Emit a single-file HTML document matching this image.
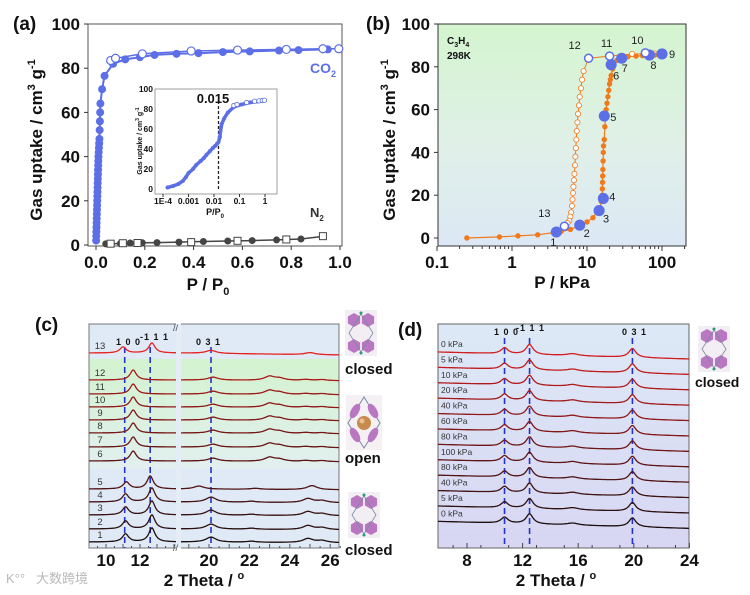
<!DOCTYPE html>
<html><head><meta charset="utf-8">
<style>
html,body{margin:0;padding:0;background:#fff;}
svg{display:block;font-family:"Liberation Sans","Noto Sans CJK SC",sans-serif;}
</style></head>
<body>
<svg id="fig" width="750" height="595" viewBox="0 0 750 595" xmlns="http://www.w3.org/2000/svg">
<defs>
<linearGradient id="gb" x1="0" y1="0" x2="0" y2="1"><stop offset="0" stop-color="#d4f5cf"/><stop offset="0.55" stop-color="#e0f0e8"/><stop offset="1" stop-color="#dce8f5"/></linearGradient>
<linearGradient id="gc" x1="0" y1="0" x2="0" y2="1"><stop offset="0" stop-color="#d3f3cf"/><stop offset="1" stop-color="#e2efef"/></linearGradient>
<linearGradient id="gd" x1="0" y1="0" x2="0" y2="1"><stop offset="0" stop-color="#dde9f6"/><stop offset="1" stop-color="#d8d6f3"/></linearGradient>
</defs>
</svg>
<script>
// ---------- DATA ----------
const co2AdsP=[0.0005,0.001,0.0015,0.002,0.0025,0.003,0.0035,0.004,0.0045,0.005,0.0055,0.006,0.0065,0.007,0.0075,0.008,0.0085,0.009,0.0095,0.010,0.011,0.012,0.013,0.014,0.015,0.016,0.017,0.018,0.025,0.035,0.07,0.12,0.18,0.24,0.33,0.42,0.52,0.63,0.75,0.83,0.95];
const co2AdsV=[2,4,6,8,10,12,14,16,18,20,22,24,26,28,30,32,34,36,38,40,42,44,46,48,52,56,60,64,70.5,76.5,82,84,85,86,86.5,86.8,87.3,87.6,88,88.2,88.5];
const co2DesP=[0.06,0.08,0.19,0.39,0.58,0.78,0.93,0.995];
const co2DesV=[83.5,84.5,86.5,87.8,88.2,88.5,88.8,88.8];
const n2AdsP=[0.04,0.10,0.14,0.19,0.25,0.34,0.39,0.44,0.54,0.64,0.74,0.84,0.93];
const n2AdsV=[0.5,0.7,0.9,1.0,1.1,1.3,1.5,1.6,1.8,2.0,2.3,2.7,3.9];
const n2DesP=[0.06,0.11,0.17,0.39,0.58,0.78,0.93];
const n2DesV=[0.6,0.8,0.9,1.3,1.9,2.5,4.0];
const insAdsP=[0.00015,0.00025,0.0004,0.0006,0.0008,0.001,0.0015,0.002,0.003,0.004,0.005,0.007,0.009,0.011,0.013,0.015,0.017,0.018,0.019,0.02,0.025,0.035,0.06,0.12,0.25,0.5,1];
const insAdsV=[1.5,3,5,8,12,16,20,24,28,31,34,38,41,43,45,47,52,58,62,65,70.5,76.5,82,84.5,86.5,87.5,88.5];
const insDesP=[0.06,0.08,0.19,0.39,0.58,0.78,0.95];
const insDesV=[83.5,84.5,86.5,87.8,88.2,88.5,88.8];
const bAdsP=[0.25,0.68,1.2,2.2,4.5,6,8,10,12,13.5,15,15.5,16,16,16.1,16.2,16.3,16.4,16.5,16.6,17,17.3,17.6,18,18.5,19,19.5,20,20.5,21,22,25,30,35,45,55,65,80,100];
const bAdsV=[0,0.5,1,1.5,3,4,6,7.5,9.5,12,14,17,20,23,26,29,32,36,40,43,46,52,56,60,63,66,69,72,74,76,79,83,84,84.7,85,85.2,85.5,85.5,86];
const bDesP=[80,40,20,10.5,9,8.6,8.3,8.0,7.8,7.6,7.45,7.3,7.2,7.1,7.0,6.9,6.8,6.7,6.6,6.5,6.4,6.3,6.15,6.0,5.8,5.5,5.0];
const bDesV=[86.2,86,85,84,78,74,70,66,62,58,54,50,46,42,38,34,30,27,24,21,18,15,12,10,8,7,5.5];
const bMarkP=[3.9,8,14.5,16.5,17,21,29,68,100,60,20,10.5,5];
const bMarkV=[2.8,6,12.8,18.5,57,81,84,85.5,86,86.5,85,84,5.5];
const bMarkOpen=[0,0,0,0,0,0,0,0,0,1,1,1,1];
const bMarkLbl=["1","2","3","4","5","6","7","8","9","10","11","12","13"];
const cLabels=["13","12","11","10","9","8","7","6","5","4","3","2","1"];
const cPhase=["c13","o","o","o","o","o","o","o","c5","c","c","c","c"];
const cPeakPos={c13:[11.0,12.7,20.1,25.0],o:[11.6,20.2,23.0,23.5,24.8,25.6],c5:[11.2,12.6,19.5,22.3,25.1],c:[11.15,12.7,20.1,22.1,24.9,25.6]};
const cPeakH={c13:[6,10,3,2],o:[10,3,4,2,1,1],c5:[7,13,3,1,4],c:[8,14,5,1,4,2]};
const cTicks=[10,12,20,22,24,26];
const cRefs=[11.1,12.6,20.1];
const dLabels=["0 kPa","5 kPa","10 kPa","20 kPa","40 kPa","60 kPa","80 kPa","100 kPa","80 kPa","40 kPa","5 kPa","0 kPa"];
const dPeakPos=[10.7,12.5,15.6,19.9];
const dPeakH=[6,10,2,9];
const dTicks=[8,12,16,20,24];
const dRefs=[10.7,12.5,19.9];

// ---------- helpers ----------
const NS="http://www.w3.org/2000/svg";
const svg=document.getElementById('fig');
function mk(tag,attrs,parent){const e=document.createElementNS(NS,tag);for(const k in attrs)e.setAttribute(k,attrs[k]);(parent||svg).appendChild(e);return e;}
function txt(s,x,y,size,opts,parent){const t=mk('text',Object.assign({x:x,y:y,'font-size':size,fill:'#111'},opts||{}),parent);t.textContent=s;return t;}
function grp(name){const g=mk('g',{});return g;}
function poly(pts,attrs,parent){return mk('polyline',Object.assign({points:pts.map(p=>p[0].toFixed(1)+','+p[1].toFixed(1)).join(' '),fill:'none'},attrs),parent);}

// ================= PANEL A =================
const xa=v=>96+v*244, ya=v=>245-v*2.21;
const ga=grp('panel-a');
txt('(a)',13,30,19,{'font-weight':'bold'},ga);
const fa=mk('rect',{x:88,y:24,width:254,height:222,fill:'#fff',stroke:'#555','stroke-width':1},ga);

[0,20,40,60,80,100].forEach(v=>{mk('line',{x1:88,x2:84,y1:ya(v),y2:ya(v),stroke:'#333'},ga);txt(v,80,ya(v)+6,17,{'font-weight':'bold','text-anchor':'end'},ga);});
[0,0.2,0.4,0.6,0.8,1.0].forEach(v=>{mk('line',{x1:xa(v),x2:xa(v),y1:246,y2:250,stroke:'#333'},ga);txt(v.toFixed(1),xa(v),268,17,{'font-weight':'bold','text-anchor':'middle'},ga);});
const yta=txt('Gas uptake / cm',0,0,17,{'font-weight':'bold','text-anchor':'middle',transform:'translate(42,140) rotate(-90)'},ga);

mk('tspan',{dy:-7,'font-size':11},yta).textContent='3';
mk('tspan',{dy:7},yta).textContent=' g';
mk('tspan',{dy:-7,'font-size':11},yta).textContent='-1';
const xta=txt('P / P',208,290,17,{'font-weight':'bold','text-anchor':'middle'},ga);

mk('tspan',{dy:5,'font-size':11},xta).textContent='0';
const blue='#5c6fe6';
poly(co2AdsP.map((p,i)=>[xa(p),ya(co2AdsV[i])]),{stroke:blue,'stroke-width':2},ga);
poly(co2DesP.map((p,i)=>[xa(p),ya(co2DesV[i])]),{stroke:blue,'stroke-width':1.5},ga);
co2AdsP.forEach((p,i)=>{const c=mk('circle',{cx:xa(p),cy:ya(co2AdsV[i]),r:4,fill:blue},ga);});
co2DesP.forEach((p,i)=>{const c=mk('circle',{cx:xa(p),cy:ya(co2DesV[i]),r:4,fill:'#fff',stroke:blue,'stroke-width':1.2},ga);});
const lc=txt('CO',310,73,14,{'font-weight':'bold',fill:blue},ga);
mk('tspan',{dy:4,'font-size':9},lc).textContent='2';
const dk='#444';
poly(n2AdsP.map((p,i)=>[xa(p),ya(n2AdsV[i])]),{stroke:dk,'stroke-width':1.5},ga);
n2AdsP.forEach((p,i)=>{const c=mk('circle',{cx:xa(p),cy:ya(n2AdsV[i]),r:3.5,fill:dk},ga);});
n2DesP.forEach((p,i)=>{const c=mk('rect',{x:xa(p)-3.5,y:ya(n2DesV[i])-3.5,width:7,height:7,fill:'#fff',stroke:dk},ga);});
const ln=txt('N',310,217,13,{'font-weight':'bold',fill:'#333'},ga);
mk('tspan',{dy:4,'font-size':8},ln).textContent='2';
const xi=v=>163+(Math.log10(v)+4)*25.5, yi=v=>189-v*1.0;
const gi=grp('inset-a');
mk('rect',{x:155,y:89,width:122,height:105,fill:'#fff',stroke:'#888','stroke-width':0.8},gi);
[0,20,40,60,80,100].forEach(v=>{txt(v,153,yi(v)+3,8.5,{'font-weight':'bold','text-anchor':'end'},gi);});
[[0.0001,'1E-4'],[0.001,'0.001'],[0.01,'0.01'],[0.1,'0.1'],[1,'1']].forEach(d=>{mk('line',{x1:xi(d[0]),x2:xi(d[0]),y1:194,y2:197,stroke:'#333'},gi);txt(d[1],xi(d[0]),204,8.5,{'font-weight':'bold','text-anchor':'middle'},gi);});
const it=txt('Gas uptake / cm',0,0,7,{'font-weight':'bold','text-anchor':'middle',transform:'translate(142,141) rotate(-90)'},gi);
mk('tspan',{dy:-3,'font-size':5},it).textContent='3';mk('tspan',{dy:3},it).textContent=' g';mk('tspan',{dy:-3,'font-size':5},it).textContent='-1';
const ix=txt('P/P',215,215,9,{'font-weight':'bold','text-anchor':'middle'},gi);mk('tspan',{dy:3,'font-size':6},ix).textContent='0';
mk('line',{x1:xi(0.015),x2:xi(0.015),y1:101,y2:189,stroke:'#222','stroke-width':1.3,'stroke-dasharray':'3,2'},gi);
txt('0.015',213,103,13,{'font-weight':'bold','text-anchor':'middle'},gi);
poly(insAdsP.map((p,i)=>[xi(p),yi(insAdsV[i])]),{stroke:blue,'stroke-width':3.5},gi);
insAdsP.forEach((p,i)=>{const c=mk('circle',{cx:xi(p),cy:yi(insAdsV[i]),r:2,fill:blue},gi);});
insDesP.forEach((p,i)=>{const c=mk('circle',{cx:xi(p),cy:yi(insDesV[i]),r:2.2,fill:'#fff',stroke:blue,'stroke-width':0.8},gi);});

// ================= PANEL B =================
const xb=v=>512+Math.log10(v)*75, yb=v=>238-v*2.14;
const gbp=grp('panel-b');
txt('(b)',366,30,19,{'font-weight':'bold'},gbp);
const fb=mk('rect',{x:438,y:24,width:248,height:222,fill:'url(#gb)',stroke:'#333','stroke-width':1},gbp);

[0,20,40,60,80,100].forEach(v=>{mk('line',{x1:438,x2:434,y1:yb(v),y2:yb(v),stroke:'#333'},gbp);txt(v,430,yb(v)+6,17,{'font-weight':'bold','text-anchor':'end'},gbp);});
[[0.1,'0.1'],[1,'1'],[10,'10'],[100,'100']].forEach(d=>{mk('line',{x1:xb(d[0]),x2:xb(d[0]),y1:246,y2:251,stroke:'#333'},gbp);txt(d[1],xb(d[0]),268,17,{'font-weight':'bold','text-anchor':'middle'},gbp);});
[0.1,1,10,100].forEach(dec=>{for(let m=2;m<10;m++){const x=xb(dec*m);if(x<686)mk('line',{x1:x,x2:x,y1:246,y2:249,stroke:'#333'},gbp);}});
const ytb=txt('Gas uptake / cm',0,0,17,{'font-weight':'bold','text-anchor':'middle',transform:'translate(395,140) rotate(-90)'},gbp);

mk('tspan',{dy:-7,'font-size':11},ytb).textContent='3';mk('tspan',{dy:7},ytb).textContent=' g';mk('tspan',{dy:-7,'font-size':11},ytb).textContent='-1';
const xtb=txt('P / kPa',562,288,17,{'font-weight':'bold','text-anchor':'middle'},gbp);

const c3=txt('C',447,44,10,{'font-weight':'bold'},gbp);mk('tspan',{dy:3,'font-size':7},c3).textContent='3';mk('tspan',{dy:-3},c3).textContent='H';mk('tspan',{dy:3,'font-size':7},c3).textContent='4';
txt('298K',447,59,10,{'font-weight':'bold'},gbp);
const org='#f07a1a';
poly(bAdsP.map((p,i)=>[xb(p),yb(bAdsV[i])]),{stroke:org,'stroke-width':1.2},gbp);
poly(bDesP.map((p,i)=>[xb(p),yb(bDesV[i])]),{stroke:org,'stroke-width':1},gbp);
bDesP.forEach((p,i)=>{const c=mk('circle',{cx:xb(p),cy:yb(bDesV[i]),r:2.6,fill:'#fff',stroke:org,'stroke-width':0.8},gbp);});
bAdsP.forEach((p,i)=>{const c=mk('circle',{cx:xb(p),cy:yb(bAdsV[i]),r:2.7,fill:org},gbp);});
const lblOff=[[-3,14],[7,12],[7,12],[9,2],[9,5],[5,15],[3,14],[4,14],[10,4],[-8,-9],[-3,-9],[-14,-9],[-20,-9]];
bMarkP.forEach((p,i)=>{const x=xb(p),y=yb(bMarkV[i]);const c=mk('circle',{cx:x,cy:y,r:bMarkOpen[i]?4:4.8,fill:bMarkOpen[i]?'#fff':blue,stroke:blue,'stroke-width':1.5},gbp);
txt(bMarkLbl[i],x+lblOff[i][0],y+lblOff[i][1],11,{fill:'#222','text-anchor':'middle'},gbp);});

// ================= PANEL C =================
const gcp=grp('panel-c');
txt('(c)',35,331,19,{'font-weight':'bold'},gcp);
const xcL=v=>106+(v-10)*17, xcR=v=>209+(v-20)*20.2;
const fc=mk('rect',{x:89,y:324,width:250,height:224,fill:'#dfeaf6',stroke:'#777','stroke-width':1},gcp);

mk('rect',{x:89.5,y:359,width:249,height:110,fill:'url(#gc)'},gcp);
mk('rect',{x:176,y:320,width:5,height:232,fill:'#fff'},gcp);
mk('rect',{x:176,y:324,width:5,height:224,fill:'#e4edf6'},gcp);
txt('//',173,331,9,{fill:'#444'},gcp);txt('//',173,551,9,{fill:'#444'},gcp);
cTicks.forEach(v=>{const x=v<15?xcL(v):xcR(v);txt(v,x,566,17,{'font-weight':'bold','text-anchor':'middle'},gcp);});
for(let v=9.5;v<=14;v+=0.5){mk('line',{x1:xcL(v),x2:xcL(v),y1:548,y2:v%1===0?544:546,stroke:'#555'},gcp);}
for(let v=19;v<=26.5;v+=0.5){mk('line',{x1:xcR(v),x2:xcR(v),y1:548,y2:v%1===0?544:546,stroke:'#555'},gcp);}
const xtc=txt('2 Theta / ',204,586,17,{'font-weight':'bold','text-anchor':'middle'},gcp);

mk('tspan',{dy:-7,'font-size':11},xtc).textContent='o';
cRefs.forEach(v=>{const x=v<15?xcL(v):xcR(v);const l=mk('line',{x1:x,x2:x,y1:347,y2:548,stroke:'#2233cc','stroke-width':1.6,'stroke-dasharray':'6,4'},gcp);});
txt('1 0 0',116,345,9,{'font-weight':'bold','letter-spacing':'1'},gcp);
txt('-1 1 1',140,340,9,{'font-weight':'bold','letter-spacing':'1'},gcp);
txt('0 3 1',196,345,9,{'font-weight':'bold','letter-spacing':'1'},gcp);
const cBase=[353,380,394,407,420,433,447,461,489,502,515,529,542];
function colMix(t){const a=[230,30,30],b=[30,15,15];return 'rgb('+a.map((v,k)=>Math.round(v+(b[k]-v)*t)).join(',')+')';}
cLabels.forEach((lab,i)=>{
  const ph=cPhase[i],pos=cPeakPos[ph],hs=cPeakH[ph],base=cBase[i];
  const col=i===0?'#e52222':colMix(0.25+0.75*i/12);
  const f=v=>{let s=0;pos.forEach((c,k)=>{const w=(c<15?0.22:0.3);s+=hs[k]/(1+((v-c)/w)**2);});return s;};
  const slope=i===0?0.25:0.1;
  const segL=[],segR=[];
  for(let x=89;x<=176;x++){const v=10+(x-106)/17;segL.push([x,base-f(v)]);}
  for(let x=181;x<=339;x++){const v=20+(x-209)/20.2;segR.push([x,base-f(v)+(x-181)*slope*0.05]);}
  const p1=poly(segL,{stroke:col,'stroke-width':1.3},gcp);
  const p2=poly(segR,{stroke:col,'stroke-width':1.3},gcp);
  txt(lab,100,base-4,9.5,{fill:'#333','text-anchor':'middle'},gcp);
});
function closedIcon(x,y,parent,name){const g=mk('g',{transform:'translate('+x+','+y+')'},parent);
  mk('rect',{x:0,y:0,width:32,height:46,fill:'#f2eef4'},g);
  [[9,10],[23,10],[9,36],[23,36]].forEach(c=>mk('polygon',{points:[0,1,2,3,4,5].map(k=>{const a=Math.PI/3*k+Math.PI/6;return (c[0]+7*Math.cos(a)).toFixed(1)+','+(c[1]+7*Math.sin(a)).toFixed(1);}).join(' '),fill:'#b977c2'},g));
  mk('polygon',{points:'16,4 28,23 16,42 4,23',fill:'none',stroke:'#7a8aa0','stroke-width':0.8},g);
  mk('circle',{cx:16,cy:3,r:1.5,fill:'#2a9a7a'},g);mk('circle',{cx:16,cy:43,r:1.5,fill:'#2a9a7a'},g);return g;}
closedIcon(345,310,gcp,'closed-structure-icon-top');
txt('closed',345,374,15,{'font-weight':'bold'},gcp);
const og=mk('g',{transform:'translate(346,395)'},gcp);
mk('rect',{x:0,y:0,width:36,height:55,fill:'#f4f0f4'},og);
mk('polygon',{points:'18,2 34,28 18,53 2,28',fill:'none',stroke:'#7a8aa0','stroke-width':1},og);
[[9,16],[27,16],[9,40],[27,40]].forEach(c=>mk('ellipse',{cx:c[0],cy:c[1],rx:4,ry:8,fill:'#b977c2',transform:'rotate('+(c[0]<18?(c[1]<28?30:-30):(c[1]<28?-30:30))+' '+c[0]+' '+c[1]+')'},og));
mk('circle',{cx:18,cy:28,r:7,fill:'#c98a4e'},og);mk('circle',{cx:16,cy:26,r:2.5,fill:'#e8c090'},og);
txt('open',345,463,15,{'font-weight':'bold'},gcp);
closedIcon(348,492,gcp,'closed-structure-icon-bottom');
txt('closed',345,555,15,{'font-weight':'bold'},gcp);
const wm=txt('大数跨境',36,583,13,{fill:'#b8b8b8'},gcp);
txt('K°°',6,583,13,{fill:'#b8b8b8'},gcp);

// ================= PANEL D =================
const gdp=grp('panel-d');
txt('(d)',398,336,19,{'font-weight':'bold'},gdp);
const xd=v=>467+(v-8)*13.9;
const fd=mk('rect',{x:438,y:324,width:251,height:224,fill:'url(#gd)',stroke:'#666','stroke-width':1},gdp);

dTicks.forEach(v=>{mk('line',{x1:xd(v),x2:xd(v),y1:548,y2:543,stroke:'#444'},gdp);txt(v,xd(v),566,17,{'font-weight':'bold','text-anchor':'middle'},gdp);});
for(let v=7;v<24;v+=2){mk('line',{x1:xd(v),x2:xd(v),y1:548,y2:545,stroke:'#444'},gdp);}
const xtd=txt('2 Theta / ',556,586,17,{'font-weight':'bold','text-anchor':'middle'},gdp);

mk('tspan',{dy:-7,'font-size':11},xtd).textContent='o';
dRefs.forEach(v=>{const l=mk('line',{x1:xd(v),x2:xd(v),y1:338,y2:546,stroke:'#2233cc','stroke-width':1.6,'stroke-dasharray':'6,4'},gdp);});
txt('1 0 0',494,335,9,{'font-weight':'bold','letter-spacing':'1'},gdp);
txt('-1 1 1',516,331,9,{'font-weight':'bold','letter-spacing':'1'},gdp);
txt('0 3 1',622,335,9,{'font-weight':'bold','letter-spacing':'1'},gdp);
dLabels.forEach((lab,i)=>{
  const base=352+i*15.4;
  const col=colMix(0.1+0.9*i/11);
  const f=v=>{let s=0;dPeakPos.forEach((c,k)=>{const w=c>15&&c<17?0.5:0.3;s+=dPeakH[k]/(1+((v-c)/w)**2);});return s;};
  const pts=[];for(let x=438;x<=689;x++){const v=8+(x-467)/13.9;pts.push([x,base-f(v)+(x-438)*0.028]);}
  const p=poly(pts,{stroke:col,'stroke-width':1.3},gdp);
  txt(lab,441,base-5,8.5,{fill:'#333'},gdp);
});
closedIcon(698,326,gdp,'closed-structure-icon-d');
txt('closed',695,387,14,{'font-weight':'bold'},gdp);
</script>
</body></html>
